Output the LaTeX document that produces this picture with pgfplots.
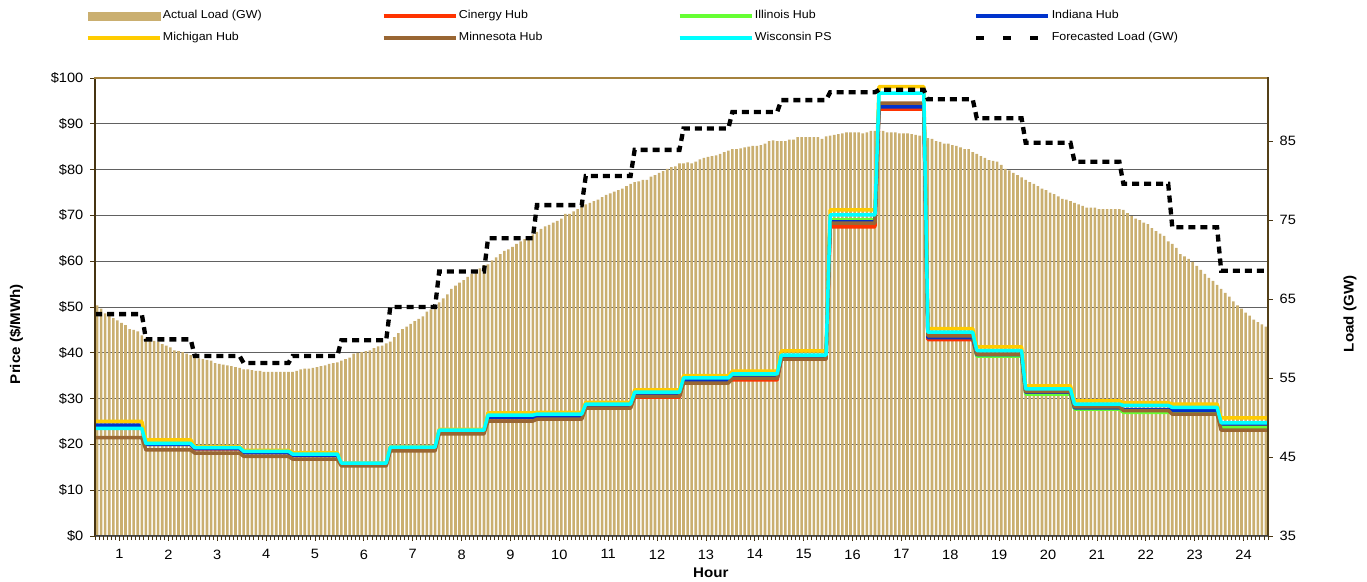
\documentclass[border=0pt]{standalone}
\usepackage{fontspec}
\setmainfont{Liberation Sans}[FakeStretch=1.08]
\usepackage{pgfplots}
\pgfplotsset{compat=1.18}
\usepackage{pgfplotstable}
\definecolor{loadtan}{RGB}{202,175,112}
\definecolor{cinergy}{RGB}{255,51,0}
\definecolor{illinois}{RGB}{102,255,51}
\definecolor{indiana}{RGB}{0,51,204}
\definecolor{michigan}{RGB}{255,204,0}
\definecolor{minnesota}{RGB}{153,102,51}
\definecolor{wisconsin}{RGB}{0,255,255}
\definecolor{framedark}{RGB}{70,52,18}
\definecolor{frametan}{RGB}{165,130,62}

\pgfplotstableread{
x     Cin  Ill  Ind  Mich Minn Wis  Fc
0     24.0 24.0 24.2 25.0 21.5 23.5 63.1
11.5  24.0 24.0 24.2 25.0 21.5 23.5 63.1
12.5  20.0 20.3 20.0 21.0 18.8 20.2 59.9
23.5  20.0 20.3 20.0 21.0 18.8 20.2 59.9
24.5  19.0 19.4 19.1 19.5 18.1 19.3 57.8
35.5  19.0 19.4 19.1 19.5 18.1 19.3 57.8
36.5  18.2 18.5 18.2 18.7 17.4 18.5 56.9
47.5  18.2 18.5 18.2 18.7 17.4 18.5 56.9
48.5  17.6 17.9 17.6 18.2 16.8 17.9 57.8
59.5  17.6 17.9 17.6 18.2 16.8 17.9 57.8
60.5  15.6 15.8 15.6 15.9 15.3 15.9 59.8
71.5  15.6 15.8 15.6 15.9 15.3 15.9 59.8
72.5  19.0 19.3 19.0 19.5 18.6 19.4 64.0
83.5  19.0 19.3 19.0 19.5 18.6 19.4 64.0
84.5  22.8 23.0 22.8 23.3 22.3 23.1 68.5
95.5  22.8 23.0 22.8 23.3 22.3 23.1 68.5
96.5  25.8 26.2 25.9 26.9 25.1 26.4 72.7
107.5 25.8 26.2 25.9 26.9 25.1 26.4 72.7
108.5 26.0 26.4 26.1 27.0 25.5 26.6 76.9
119.5 26.0 26.4 26.1 27.0 25.5 26.6 76.9
120.5 28.2 28.6 28.3 29.2 27.9 28.8 80.6
131.5 28.2 28.6 28.3 29.2 27.9 28.8 80.6
132.5 30.3 31.2 30.6 31.9 30.5 31.4 83.9
143.5 30.3 31.2 30.6 31.9 30.5 31.4 83.9
144.5 33.8 34.3 34.0 35.0 33.4 34.5 86.6
155.5 33.8 34.3 34.0 35.0 33.4 34.5 86.6
156.5 34.1 35.0 34.5 36.0 34.4 35.4 88.7
167.5 34.1 35.0 34.5 36.0 34.4 35.4 88.7
168.5 38.8 39.3 39.0 40.4 38.6 39.5 90.2
179.5 38.8 39.3 39.0 40.4 38.6 39.5 90.2
180.5 67.5 69.0 68.6 71.2 68.3 70.1 91.2
191.5 67.5 69.0 68.6 71.2 68.3 70.1 91.2
192.5 93.2 94.0 93.7 98.1 94.5 96.7 91.5
203.5 93.2 94.0 93.7 98.1 94.5 96.7 91.5
204.5 42.9 43.5 43.3 45.3 43.7 44.5 90.3
215.5 42.9 43.5 43.3 45.3 43.7 44.5 90.3
216.5 39.5 39.3 39.6 41.3 39.7 40.5 87.9
227.5 39.5 39.3 39.6 41.3 39.7 40.5 87.9
228.5 31.3 31.0 31.4 32.8 31.5 32.1 84.8
239.5 31.3 31.0 31.4 32.8 31.5 32.1 84.8
240.5 27.9 27.7 28.0 29.5 28.2 28.8 82.4
251.5 27.9 27.7 28.0 29.5 28.2 28.8 82.4
252.5 27.4 27.0 27.6 29.1 27.4 28.5 79.6
263.5 27.4 27.0 27.6 29.1 27.4 28.5 79.6
264.5 27.2 27.0 27.4 28.8 26.6 28.1 74.1
275.5 27.2 27.0 27.4 28.8 26.6 28.1 74.1
276.5 24.3 23.7 24.5 25.8 23.1 24.7 68.6
288   24.3 23.7 24.5 25.8 23.1 24.7 68.6
}\prices

\pgfplotsset{
  base/.style={scale only axis, width=1173bp, height=458bp,
    at={(95bp,46bp)}, anchor=south west, xmin=0, xmax=288,
    tick label style={font=\fontsize{13.5bp}{16bp}\selectfont}},
  lineleg/.style={legend image code/.code={\draw[##1] (0bp,0bp) -- (72bp,0bp);}},
  pline/.style={line width=3.5bp, line join=round}
}
\newcommand{\labfont}{\fontsize{14bp}{17bp}\selectfont\bfseries}

\begin{document}
\begin{tikzpicture}
\path[use as bounding box] (0,0) rectangle (1367bp,582bp);

% Axis A: price grid, left ticks, hour labels
\begin{axis}[base, ymin=0, ymax=100,
  ytick={0,10,...,100},
  yticklabels={\$0,\$10,\$20,\$30,\$40,\$50,\$60,\$70,\$80,\$90,\$100},
  ymajorgrids, grid style={black!62, line width=0.9bp},
  ytick pos=left, xtick pos=bottom,
  xtick={6,18,...,282},
  xticklabels={1,2,3,4,5,6,7,8,9,10,11,12,13,14,15,16,17,18,19,20,21,22,23,24},
  minor xtick={0,1,...,288},
  tick align=outside, major tick length=4.5bp, minor tick length=4bp,
  tick style={color=framedark, line width=0.8bp},
  axis line style={draw=none},
  yticklabel style={inner sep=0pt, xshift=-7bp},
  xticklabel style={inner sep=0pt, yshift=-9bp},
  xlabel={Hour}, ylabel={Price (\$/MWh)},
  every axis x label/.style={at={(axis description cs:0.525,-0.081)}, anchor=center, font=\labfont},
  every axis y label/.style={at={(axis description cs:-0.067,0.441)}, rotate=90, anchor=center, font=\labfont}]
\addplot[draw=none, forget plot] coordinates {(0,0)};
\end{axis}

% Axis B: load bars, right ticks
\begin{axis}[base, ymin=35, ymax=93,
  ytick={35,45,...,85}, yticklabels={35,45,55,65,75,85},
  ytick pos=right, xtick=\empty,
  tick align=outside, major tick length=4.5bp,
  tick style={color=framedark, line width=0.8bp},
  axis line style={draw=none},
  yticklabel style={inner sep=0pt, xshift=7bp},
  ylabel={Load (GW)},
  every axis y label/.style={at={(axis description cs:1.070,0.485)}, rotate=90, anchor=center, font=\labfont}]
\addplot[ybar, bar width=2.6bp, fill=loadtan, draw=none, forget plot]
 table[x expr=\coordindex+0.5, y index=0, header=false, row sep=\\]{
64.2\\63.8\\63.2\\63.0\\62.6\\62.3\\62.0\\61.7\\61.2\\61.1\\60.9\\60.4\\
60.1\\59.8\\59.7\\59.6\\59.3\\59.1\\58.9\\58.5\\58.4\\58.3\\58.1\\57.9\\
57.6\\57.5\\57.4\\57.3\\57.2\\56.9\\56.8\\56.7\\56.6\\56.5\\56.4\\56.3\\
56.1\\56.1\\56.0\\55.9\\55.9\\55.8\\55.8\\55.8\\55.8\\55.8\\55.8\\55.8\\
55.8\\55.9\\56.1\\56.2\\56.2\\56.3\\56.4\\56.5\\56.6\\56.8\\56.9\\57.0\\
57.2\\57.4\\57.6\\58.1\\58.2\\58.3\\58.4\\58.5\\58.8\\59.0\\59.1\\59.4\\
59.6\\60.2\\60.7\\61.2\\61.5\\61.85\\62.2\\62.5\\62.8\\63.4\\63.7\\64.2\\
64.6\\65.1\\65.6\\66.3\\66.7\\67.1\\67.4\\67.8\\68.2\\68.6\\68.9\\69.3\\
69.4\\69.9\\70.3\\70.7\\71.1\\71.3\\71.6\\72.0\\72.3\\72.6\\72.9\\73.2\\
73.5\\73.9\\74.2\\74.4\\74.7\\74.9\\75.2\\75.8\\75.8\\76.1\\76.4\\76.7\\
77.0\\77.2\\77.4\\77.6\\77.9\\78.2\\78.4\\78.6\\78.8\\79.0\\79.3\\79.6\\
79.8\\79.9\\80.1\\80.1\\80.5\\80.7\\81.0\\81.2\\81.5\\81.7\\81.8\\82.2\\
82.2\\82.3\\82.2\\82.4\\82.7\\82.9\\83.0\\83.1\\83.2\\83.4\\83.6\\83.8\\
84.0\\84.0\\84.1\\84.2\\84.3\\84.4\\84.4\\84.5\\84.7\\85.0\\85.1\\85.0\\
85.0\\85.0\\85.2\\85.2\\85.5\\85.5\\85.5\\85.5\\85.5\\85.5\\85.3\\85.6\\
85.7\\85.8\\85.9\\86.0\\86.1\\86.1\\86.1\\86.1\\86.0\\86.1\\86.3\\86.3\\
86.3\\86.3\\86.1\\86.1\\86.1\\86.0\\86.0\\86.0\\85.9\\85.8\\85.7\\85.6\\
85.4\\85.3\\85.0\\84.9\\84.7\\84.7\\84.5\\84.4\\84.2\\84.0\\84.0\\83.6\\
83.4\\83.1\\82.9\\82.6\\82.5\\82.4\\82.0\\81.5\\81.3\\81.0\\80.7\\80.4\\
80.1\\79.8\\79.6\\79.3\\79.0\\78.8\\78.5\\78.3\\78.0\\77.7\\77.6\\77.4\\
77.2\\77.0\\76.8\\76.6\\76.6\\76.6\\76.4\\76.4\\76.4\\76.4\\76.4\\76.4\\
76.3\\75.9\\75.5\\75.2\\75.0\\74.7\\74.5\\74.0\\73.6\\73.3\\73.0\\72.3\\
72.0\\71.5\\70.7\\70.4\\70.1\\69.7\\69.2\\68.7\\68.2\\67.7\\67.3\\66.8\\
66.3\\65.8\\65.3\\64.7\\64.2\\63.8\\63.3\\62.9\\62.4\\62.1\\61.8\\61.5\\
};
\end{axis}

% Axis C: price lines
\begin{axis}[base, ymin=0, ymax=100, hide axis]
\addplot[pline, cinergy] table[x=x, y=Cin] {\prices};
\addplot[pline, illinois] table[x=x, y=Ill] {\prices};
\addplot[pline, indiana] table[x=x, y=Ind] {\prices};
\addplot[pline, michigan] table[x=x, y=Mich] {\prices};
\addplot[pline, minnesota] table[x=x, y=Minn] {\prices};
\addplot[pline, wisconsin] table[x=x, y=Wis] {\prices};
\end{axis}

% Axis D: forecast and legend
\begin{axis}[base, ymin=35, ymax=93, xtick=\empty, ytick=\empty,
  axis line style={draw=none},
  legend columns=4,
  legend cell align=left,
  legend style={at={(axis description cs:-0.0077,1.149)}, anchor=north west,
    draw=none, fill=none, inner sep=0pt, outer sep=0pt,
    row sep=10bp, column sep=0pt,
    nodes={inner sep=0pt, text height=9bp, text depth=3bp,
      font=\fontsize{11.5bp}{13bp}\selectfont}}]
\addlegendimage{legend image code/.code={\fill[loadtan] (0bp,-4bp) rectangle (72bp,4bp);}}
\addlegendentry{\makebox[220.5bp][l]{\hspace{1.5bp}Actual Load (GW)}}
\addlegendimage{lineleg, cinergy, line width=3.5bp}
\addlegendentry{\makebox[220.5bp][l]{\hspace{1.5bp}Cinergy Hub}}
\addlegendimage{lineleg, illinois, line width=3.5bp}
\addlegendentry{\makebox[220.5bp][l]{\hspace{1.5bp}Illinois Hub}}
\addlegendimage{lineleg, indiana, line width=3.5bp}
\addlegendentry{\makebox[220.5bp][l]{\hspace{1.5bp}Indiana Hub}}
\addlegendimage{lineleg, michigan, line width=3.5bp}
\addlegendentry{\makebox[220.5bp][l]{\hspace{1.5bp}Michigan Hub}}
\addlegendimage{lineleg, minnesota, line width=3.5bp}
\addlegendentry{\makebox[220.5bp][l]{\hspace{1.5bp}Minnesota Hub}}
\addlegendimage{lineleg, wisconsin, line width=3.5bp}
\addlegendentry{\makebox[220.5bp][l]{\hspace{1.5bp}Wisconsin PS}}
\addlegendimage{lineleg, black, line width=4.3bp, dash pattern=on 8bp off 19bp}
\addlegendentry{\makebox[220.5bp][l]{\hspace{1.5bp}Forecasted Load (GW)}}
\addplot[black, line width=4.3bp, dash pattern=on 7bp off 5bp, forget plot]
  table[x=x, y=Fc] {\prices};
\end{axis}

% frame lines
\draw[framedark, line width=1.6bp] (95bp,46bp) -- (95bp,504bp);
\draw[frametan, line width=1.6bp] (94.2bp,504bp) -- (1268bp,504bp);
\draw[framedark!85!frametan, line width=1.6bp] (1268bp,504.8bp) -- (1268bp,46bp);
\draw[black!75, line width=1bp] (95bp,46bp) -- (1268bp,46bp);
\end{tikzpicture}
\end{document}
